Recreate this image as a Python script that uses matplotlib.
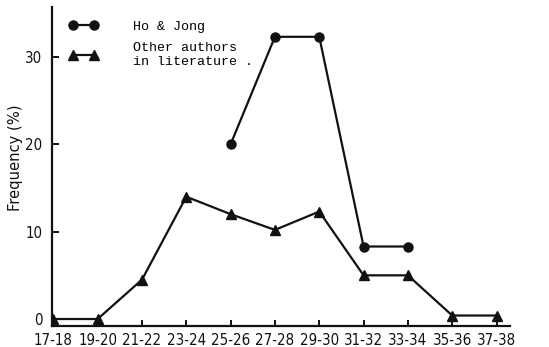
import matplotlib
matplotlib.use("Agg")
import matplotlib.pyplot as plt
from matplotlib import font_manager

categories = ["17-18", "19-20", "21-22", "23-24", "25-26", "27-28",
              "29-30", "31-32", "33-34", "35-36", "37-38"]
ho_jong_cats = ["25-26", "27-28", "29-30", "31-32", "33-34"]
ho_jong_vals = [20.0, 32.3, 32.3, 8.3, 8.3]
other_vals = [0.0, 0.0, 4.5, 14.0, 12.0, 10.2, 12.3, 5.0, 5.0, 0.4, 0.4]
yticks = [0, 10, 20, 30]

cond = [f for f in font_manager.fontManager.ttflist
        if f.name == "DejaVu Sans" and f.stretch == "condensed" and f.weight in (400, "normal") and f.style == "normal"]
if cond:
    tick_fp = font_manager.FontProperties(fname=cond[0].fname, size=10.8)
else:
    tick_fp = font_manager.FontProperties(family="DejaVu Sans", size=9.6)

fig = plt.figure(figsize=(5.49, 3.47), dpi=100)
ax = fig.add_axes([0.0947, 0.0605, 0.834, 0.919])

xpos = {c: i for i, c in enumerate(categories)}
hx = [xpos[c] for c in ho_jong_cats]
ox = [xpos[c] for c in categories]

col = "#111111"
l1, = ax.plot(hx, ho_jong_vals, color=col, lw=1.6, marker="o", ms=6.5,
              label="Ho & Jong")
l2, = ax.plot(ox, other_vals, color=col, lw=1.6, marker="^", ms=6.5,
              label="Other authors\nin literature .")

ax.set_xlim(-0.03, 10.3)
ax.set_ylim(-0.8, 35.7)
ax.set_xticks(range(len(categories)))
ax.set_xticklabels(categories, fontproperties=tick_fp)
ax.set_yticks(yticks)
ax.set_yticklabels([str(v) for v in yticks], fontproperties=tick_fp)

for s in ["top", "right"]:
    ax.spines[s].set_visible(False)
for s in ["left", "bottom"]:
    ax.spines[s].set_linewidth(1.6)
    ax.spines[s].set_color(col)

ax.tick_params(axis="x", direction="in", length=4, width=1.4, pad=5, colors=col)
ax.tick_params(axis="y", direction="in", length=5, width=1.4, pad=7, colors=col)
ax.yaxis.get_major_ticks()[0].tick1line.set_visible(False)

ylab_fp = tick_fp.copy()
ylab_fp.set_size(11.8)
ax.set_ylabel("Frequency (%)", color=col, fontproperties=ylab_fp)
ax.yaxis.set_label_coords(-0.064, 0.527)

ax.legend(handles=[l1, l2], loc="upper left", bbox_to_anchor=(0.037, 0.958),
          frameon=False, numpoints=2, handlelength=2.2, handletextpad=2.6,
          borderpad=0, borderaxespad=0, labelspacing=0.7,
          prop={"family": "Liberation Mono", "size": 9.6})

fig.savefig("out.png", dpi=100, facecolor="white")
